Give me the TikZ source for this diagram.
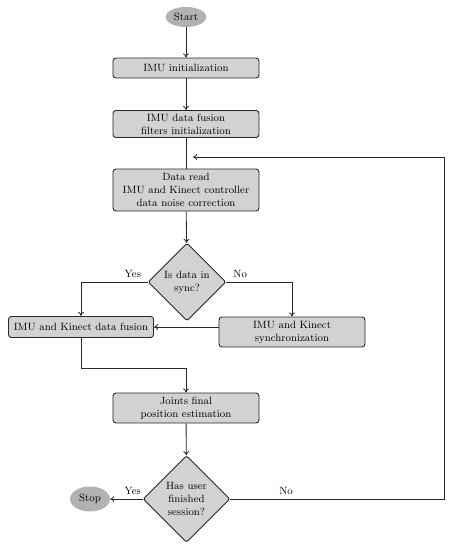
\documentclass[tikz,border=0pt]{standalone}
\usepackage{tikz}
\usetikzlibrary{shapes.geometric, arrows.meta, positioning, calc}
\definecolor{boxGray}{RGB}{210, 210, 210}
\definecolor{termGray}{RGB}{178, 178, 178}
\definecolor{lineDark}{RGB}{40, 40, 40}

\tikzset{
  process/.style={rectangle, rounded corners=2.5pt, draw=lineDark, thick, fill=boxGray,
    align=center, font=\small, inner sep=1.5pt, minimum width=4.38cm},
  decision/.style={diamond, draw=lineDark, thick, fill=boxGray, rounded corners=2pt,
    align=center, font=\small, inner sep=0pt, aspect=1},
  terminal/.style={ellipse, fill=termGray, draw=none, font=\small, inner sep=0pt},
  flow/.style={-{To[length=3.5pt, width=5pt]}, line width=0.7pt, lineDark},
  link/.style={line width=0.7pt, lineDark},
  answer/.style={above, font=\small, text=black}
}

\begin{document}
\begin{tikzpicture}[x=0.03cm, y=-0.03cm]
      \useasboundingbox (0,0) rectangle (453,550);

      % Start and set-up
      \node[terminal, minimum width=1.23cm, minimum height=0.6cm] (start) at (186,17) {Start};
      \node[process, minimum height=0.6cm] (init) at (186,68) {IMU initialization};
      \node[process, minimum height=0.81cm] (filters) at (186,124) {IMU data fusion\\filters initialization};
      \node[process, minimum height=1.26cm] (read) at (186,190) {Data read\\IMU and Kinect controller\\data noise correction};

      % Sync check
      \node[decision, minimum size=2.34cm] (insync) at (187,282) {Is data in\\sync?};
      \node[process, minimum width=4.35cm, minimum height=0.63cm] (fusion) at (81,327) {IMU and Kinect data fusion};
      \node[process, minimum height=0.9cm] (syncbox) at (292,332) {IMU and Kinect\\synchronization};

      % Estimation and end check
      \node[process, minimum height=0.9cm] (joints) at (186,408) {Joints final\\position estimation};
      \node[decision, minimum size=2.61cm] (finished) at (186.5,499) {Has user\\finished\\session?};
      \node[terminal, minimum width=1.2cm, minimum height=0.75cm] (stop) at (90,499) {Stop};

      % Loop back point
      \coordinate (back) at (193,157);

      % Connectors
      \draw[flow] (start) -- (init);
      \draw[flow] (init) -- (filters);
      \draw[link] (filters) -- (read);
      \draw[flow] (read) -- (insync);
      \draw[flow] (insync.west) -| node[pos=0.11, answer] {Yes} (fusion.north);
      \draw[flow] (insync.east) -| node[pos=0.105, answer] {No} (syncbox.north);
      \draw[flow] (syncbox.west |- fusion.east) -- (fusion.east);
      \draw[flow] (fusion.south) -- ++(0,30) -| (joints.north);
      \draw[flow] (joints) -- (finished);
      \draw[flow] (finished.west) -- node[pos=0.3, answer] {Yes} (stop.east);
      \draw[flow] (finished.east) -- node[pos=0.26, answer] {No} ++(214,0) |- (back);
    \end{tikzpicture}
\end{document}
